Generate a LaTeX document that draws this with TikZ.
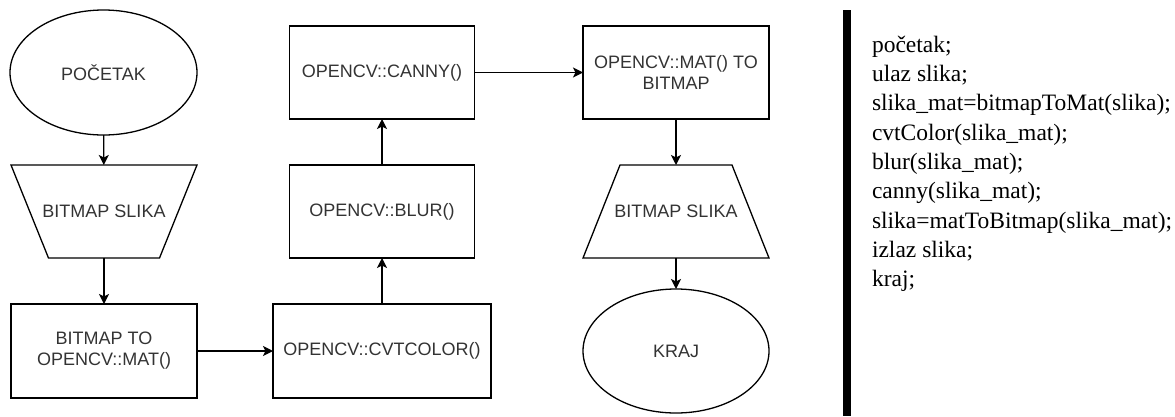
\documentclass[tikz,border=0pt]{standalone}
\usepackage{fontspec}
\setmainfont{Liberation Serif}
\newfontfamily\flowfont{Liberation Sans}
\usetikzlibrary{shapes.geometric,arrows.meta,calc}
\definecolor{txtgray}{HTML}{333333}
\begin{document}
\begin{tikzpicture}[x=1pt,y=-1pt,
  every node/.style={inner sep=0pt, outer sep=0pt},
  lbl/.style={font=\flowfont\fontsize{18}{21}\selectfont, text=txtgray, align=center},
  boxnode/.style={lbl, draw=black, line width=1.3pt, rectangle},
  ovalnode/.style={lbl, draw=black, line width=1.3pt, ellipse, minimum width=187pt, minimum height=125pt},
  trapnode/.style={lbl, rectangle, minimum width=186pt, minimum height=93pt},
  trapline/.style={draw=black, line width=1.3pt, line join=miter},
  arr/.style={draw=black, line width=1.3pt, -{Stealth[length=10pt,width=10pt,inset=2.5pt]}}
]
\useasboundingbox (0,0) rectangle (1175,416);
% nodes
\node[ovalnode] (start) at (103.5,72.5) {POČETAK};
\node[trapnode] (in) at (104,211.5) {BITMAP SLIKA};
\node[boxnode, minimum width=186pt, minimum height=94pt] (b2m) at (104,351) {BITMAP TO\\OPENCV::MAT()};
\node[boxnode, minimum width=218pt, minimum height=94pt] (cvt) at (382,351) {OPENCV::CVTCOLOR()};
\node[boxnode, minimum width=185pt, minimum height=93pt] (blur) at (382,211.5) {OPENCV::BLUR()};
\node[boxnode, minimum width=185pt, minimum height=93pt] (canny) at (382,72.5) {OPENCV::CANNY()};
\node[boxnode, minimum width=186pt, minimum height=93pt] (m2b) at (676,72.5) {OPENCV::MAT() TO\\BITMAP};
\node[trapnode] (out) at (676,211.5) {BITMAP SLIKA};
\node[ovalnode, minimum width=186pt, minimum height=124pt] (end) at (676,351) {KRAJ};
% trapezoid outlines
\draw[trapline] (in.north west) -- (in.north east) -- ([xshift=-37.5pt]in.south east) -- ([xshift=37.5pt]in.south west) -- cycle;
\draw[trapline] ([xshift=37pt]out.north west) -- ([xshift=-37pt]out.north east) -- (out.south east) -- (out.south west) -- cycle;
% connectors
\draw[arr] (start) -- (in);
\draw[arr] (in) -- (b2m);
\draw[arr] (b2m) -- (cvt);
\draw[arr] (cvt) -- (blur);
\draw[arr] (blur) -- (canny);
\draw[arr] (canny) -- (m2b);
\draw[arr] (m2b) -- (out);
\draw[arr] (out) -- (end);
% separator bar
\fill[black] (843,10) rectangle (851,416);
% code
\node[anchor=north west, align=left, font=\fontsize{23.5}{29.3}\selectfont] (code) at (872,36) {početak;\\ulaz slika;\\slika\_mat=bitmapToMat(slika);\\cvtColor(slika\_mat);\\blur(slika\_mat);\\canny(slika\_mat);\\slika=matToBitmap(slika\_mat);\\izlaz slika;\\kraj;};
\end{tikzpicture}
\end{document}
